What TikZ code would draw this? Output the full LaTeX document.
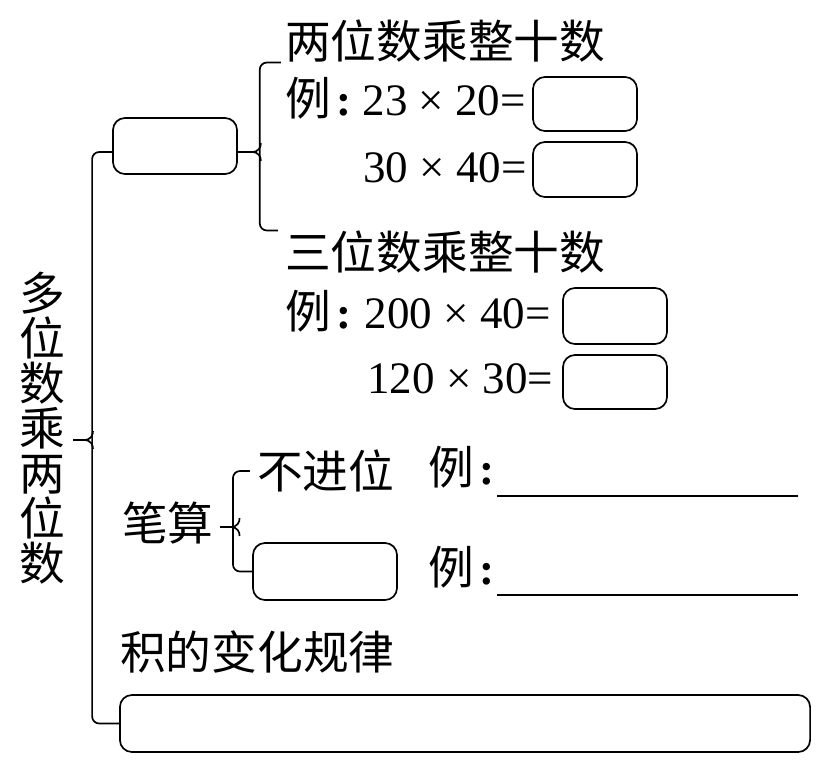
\documentclass[tikz,border=0pt]{standalone}
\usepackage{fontspec}
\setmainfont{Liberation Serif}
\newfontfamily\cjk{Noto Sans CJK SC}
\usetikzlibrary{positioning}
\tikzset{
  blank/.style={draw,rounded corners=0.3cm,line width=1.2pt,inner sep=0pt,
    minimum width=2.6cm,minimum height=1.35cm},
  word/.style={font=\cjk\fontsize{32.5}{32}\selectfont,inner sep=0pt,anchor=west},
  sumtext/.style={font=\fontsize{32}{32}\selectfont,inner sep=0pt,anchor=base west},
  brace/.style={line width=1.2pt,rounded corners=5pt},
  answer/.style={line width=1.2pt}
}
\newcommand{\exlabel}{\makebox[55pt][l]{{\cjk\fontsize{32.5}{32}\selectfont 例}\hspace{4pt}\textbf{:}}}

\begin{document}
\begin{tikzpicture}[x=0.025cm,y=-0.025cm]
      \useasboundingbox (0,0) rectangle (827,765);
      % main title, one character per line
      \node[font=\cjk\fontsize{32.5}{32}\selectfont,align=center,inner sep=0pt]
        (title) at (42,428) {多\\位\\数\\乘\\两\\位\\数};
      \node[blank,minimum width=3.1cm,minimum height=1.4cm] (box1) at (175,146) {};

      % multiplying by whole tens
      \node[word] (twodigit) at (285,41) {两位数乘整十数};
      \node[sumtext] (calc1) at (285,115) {\exlabel 23 × 20=};
      \node[blank] (ans1) at (585,104) {};
      \node[sumtext] (calc2) at (363,182) {30 × 40=};
      \node[blank,minimum height=1.375cm] (ans2) at (585,169.5) {};
      \node[word] (threedigit) at (285,252) {三位数乘整十数};
      \node[sumtext] (calc3) at (285,328) {\exlabel\hspace{1.5pt}200 × 40=};
      \node[blank,minimum height=1.4cm] (ans3) at (615,316) {};
      \node[sumtext] (calc4) at (367,393) {120 × 30=};
      \node[blank] (ans4) at (615,382) {};

      % written method
      \node[word] (written) at (122,523) {笔算};
      \node[word] (nocarry) at (257,471) {不进位};
      \node[blank,minimum width=3.6cm,minimum height=1.425cm] (carrybox) at (325,571.5) {};
      \node[sumtext] (ex3) at (428,484) {\exlabel};
      \node[sumtext] (ex4) at (428,584) {\exlabel};
      \draw[answer] (497,496) -- (798,496);
      \draw[answer] (497,595) -- (798,595);

      % rule of the product
      \node[word] (rule) at (120,652) {积的变化规律};
      \node[blank,minimum width=17.25cm,minimum height=1.425cm] (rulebox) at (465,723.5) {};

      % braces
      \draw[brace] ([yshift=-0.15cm]box1.west) -- ++(-20,0) |- (rulebox.west);
      \coordinate (mainTip) at (73,440);
      \draw[answer] (mainTip) -- ++(11,0) coordinate (m1);
      \draw[answer] (m1) .. controls +(7,0) and +(0,4) .. ++(9,-9)
        (m1) .. controls +(7,0) and +(0,-4) .. ++(9,9);

      \draw[brace] ([xshift=-3pt]twodigit.south west) -- ++(-21,0)
        |- ([xshift=-5pt]threedigit.north west);
      \draw[answer] ([yshift=-0.15cm]box1.east) -- ++(14,0) coordinate (t1);
      \draw[answer] (t1) .. controls +(7,0) and +(0,4) .. ++(9,-9)
        (t1) .. controls +(7,0) and +(0,-4) .. ++(9,9);

      \draw[brace] ([xshift=-5pt]nocarry.west) -- ++(-17,0) |- (carrybox.west);
      \draw[answer] ([xshift=4pt,yshift=-0.1cm]written.east) -- ++(11,0) coordinate (w1);
      \draw[answer] (w1) .. controls +(7,0) and +(0,4) .. ++(9,-9)
        (w1) .. controls +(7,0) and +(0,-4) .. ++(9,9);
    \end{tikzpicture}
\end{document}
